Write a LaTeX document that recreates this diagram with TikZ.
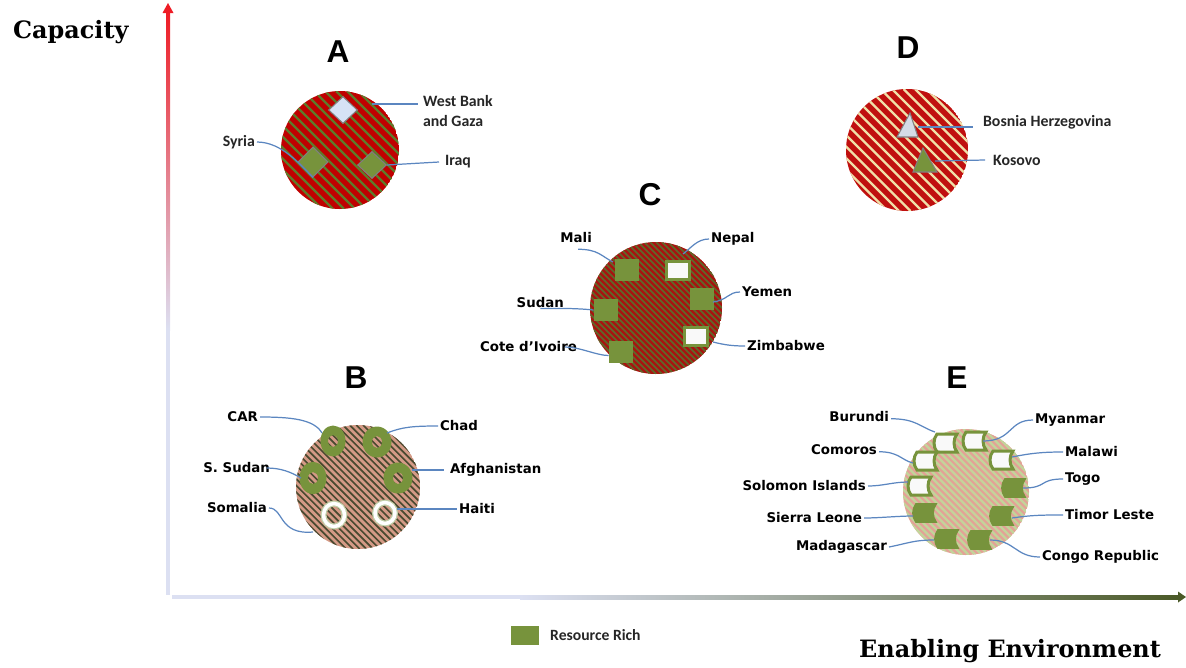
\documentclass[tikz,border=0pt]{standalone}
\usepackage{fontspec}
\usepackage{tikz}
\usetikzlibrary{shapes.geometric,positioning}
\newfontfamily\dvfont{DejaVu Sans}
\newfontfamily\calfont{Carlito}
\newfontfamily\arfont{Liberation Sans}
\newfontfamily\serfont{DejaVu Serif}
\definecolor{grn}{HTML}{77933C}
\definecolor{cblue}{HTML}{5B86C0}
\definecolor{redA}{HTML}{C00000}
\definecolor{olA}{HTML}{5F7A2A}
\definecolor{redC}{HTML}{A81410}
\definecolor{olC}{HTML}{5E6A2A}
\definecolor{redD}{HTML}{C0100F}
\definecolor{crD}{HTML}{F0E0A8}
\definecolor{salB}{HTML}{D49A86}
\definecolor{dkB}{HTML}{4A4A30}
\definecolor{salE}{HTML}{E3A296}
\definecolor{ltE}{HTML}{C3D49A}
\definecolor{lav}{HTML}{DCE0F2}
\definecolor{axgrn}{HTML}{4B5A28}
\definecolor{axred}{HTML}{EE1C25}
\definecolor{wbblue}{HTML}{D6E2F5}
\definecolor{trigray}{HTML}{D5DCE6}

% hatched disc: centre x, centre y, radius, base, stripe, period, stripe width
\newcommand{\hatchdisc}[7]{%
  \begin{scope}
    \clip (#1,#2) circle (#3);
    \fill[#4] (#1,#2) circle (#3);
    \foreach \i in {-25,...,25}
      \draw[#5, line width=#7] ({#1+\i*#6-#3},{#2-#3}) -- ({#1+\i*#6+#3},{#2+#3});
  \end{scope}}

\tikzset{
  stdata/.pic={% curved "stored data" block of group E
    \path[pic actions] (-9,-9) -- (11,-9) .. controls (7,-4) and (7,4) .. (11,9)
      -- (-9,9) .. controls (-13,4) and (-13,-4) .. (-9,-9) -- cycle;
    \coordinate (-c) at (0,0);
  }
}

\begin{document}
\begin{tikzpicture}[x=0.02cm, y=-0.02cm, % one unit = one pixel of the reference
  lbl/.style={font=\dvfont\bfseries\fontsize{7.6}{9}\selectfont, inner sep=1pt}, % country names
  cal/.style={font=\calfont\bfseries\fontsize{9}{11.3}\selectfont, text=black!85, inner sep=1pt, align=left},
  big/.style={font=\arfont\bfseries\fontsize{18}{20}\selectfont},
  axl/.style={font=\serfont\bfseries\fontsize{13.6}{16}\selectfont},
  conn/.style={draw=cblue, line width=0.7pt},
  sqg/.style={rectangle, fill=grn, minimum width=0.48cm, minimum height=0.44cm, inner sep=0pt},
  sqw/.style={rectangle, fill=white!95!gray, draw=grn, line width=1.7pt, minimum width=0.46cm, minimum height=0.36cm, inner sep=0pt},
  dia/.style={diamond, draw=gray, line width=0.6pt, inner sep=0pt, minimum width=0.58cm, minimum height=0.54cm},
  ring/.style={fill=grn, even odd rule},
  hollow/.style={draw=white, line width=2pt},
  sdg/.style={fill=grn, draw=grn, line width=1pt},
  sdw/.style={fill=white!95!gray, draw=grn, line width=1.7pt}
  ]
\useasboundingbox (0,0) rectangle (1186,667);

% axes
\shade[top color=axred, bottom color=lav] (166,12) rectangle (170,330);
\fill[lav] (166,330) rectangle (170,595);
\fill[axred] (162.5,13) -- (168,3) -- (173.5,13) -- cycle;
\fill[lav] (172,595) rectangle (520,599);
\shade[left color=lav, right color=axgrn] (520,595) rectangle (1179,599);
\fill[axgrn] (1178,591.5) -- (1186,597) -- (1178,602.5) -- cycle;
\node[axl, anchor=base west] (yax) at (7,38) {Capacity};
\node[axl, anchor=base west] (xax) at (853,657) {Enabling Environment};

% groups
\hatchdisc{340}{150}{59}{redA}{olA}{11}{1.3pt}
\hatchdisc{907}{150}{61}{redD}{crD}{11.5}{1.3pt}
\hatchdisc{656}{308}{66}{redC}{olC}{6}{1pt}
\hatchdisc{358}{487}{62}{salB}{dkB}{6.7}{0.95pt}
\hatchdisc{966}{492}{63}{salE}{ltE}{6.7}{1.3pt}
\node[big] (hA) at (338,52) {A};
\node[big] (hD) at (908,48) {D};
\node[big] (hC) at (650,195) {C};
\node[big] (hB) at (356,378) {B};
\node[big] (hE) at (957,378) {E};

% A
\node[dia, fill=wbblue] (wb) at (343,110) {};
\node[dia, fill=grn, minimum width=0.6cm, minimum height=0.6cm] (syr) at (313,162) {};
\node[dia, fill=grn] (irq) at (372,165) {};
\node[cal, anchor=north west] (lWB) at (421,93) {West Bank\\and Gaza};
\node[cal, anchor=east] (lSyr) at (257,142) {Syria};
\node[cal, anchor=west] (lIrq) at (443,162) {Iraq};
\draw[conn] ([shift={(14,-6)}]wb.east) -- ([shift={(-3,0)}]lWB.north west |- 0,104);
\draw[conn] (lSyr.east) .. controls +(25,0) and +(-12,-12) .. (syr.south);
\draw[conn] (irq.east) -- ([shift={(-4,0)}]lIrq.west);

% D
\coordinate (bos) at (908,127);
\coordinate (kos) at (925,162);
\filldraw[fill=trigray, draw=gray, line width=0.6pt] ([shift={(2,-14)}]bos) -- ([shift={(10,10)}]bos) -- ([shift={(-11,10)}]bos) -- cycle;
\filldraw[fill=grn, draw=gray, line width=0.6pt] ([shift={(-2,-14)}]kos) -- ([shift={(12,10)}]kos) -- ([shift={(-12,10)}]kos) -- cycle;
\node[cal, anchor=west] (lBos) at (981,122) {Bosnia Herzegovina};
\node[cal, anchor=west] (lKos) at (991,160) {Kosovo};
\draw[conn] ([shift={(10,0)}]bos) -- ([shift={(-8,5)}]lBos.west);
\draw[conn] ([shift={(10,-1)}]kos) -- ([shift={(-6,0)}]lKos.west);

% C
\node[sqg] (mali) at (627,270) {};
\node[sqw] (nep) at (678,270) {};
\node[sqg] (yem) at (702,299) {};
\node[sqg] (sud) at (606,310) {};
\node[sqw] (zim) at (696,336) {};
\node[sqg] (cote) at (621,352) {};
\node[lbl, anchor=east] (lMali) at (594,238) {Mali};
\node[lbl, anchor=west] (lNep) at (709,239) {Nepal};
\node[lbl, anchor=west] (lYem) at (740,292) {Yemen};
\node[lbl, anchor=east] (lSud) at (566,303) {Sudan};
\node[lbl, anchor=west] (lZim) at (745,346) {Zimbabwe};
\node[lbl, anchor=east] (lCote) at (579,347) {Cote d’Ivoire};
\draw[conn] ([shift={(2,4)}]lMali.south) .. controls +(20,0) and +(-12,-6) .. ([shift={(-14,-8)}]mali.center);
\draw[conn] (lNep.west) .. controls +(-12,0) and +(8,-6) .. ([shift={(5,-16)}]nep.center);
\draw[conn] ([shift={(11,3)}]yem.center) .. controls +(15,-2) and +(-12,0) .. (lYem.west);
\draw[conn] ([yshift=1pt]lSud.south) .. controls +(20,0) and +(-20,-2) .. (sud.west);
\draw[conn] ([shift={(17,6)}]zim.center) .. controls +(12,3) and +(-12,0) .. (lZim.west);
\draw[conn] ([xshift=-8pt]lCote.east) .. controls +(15,0) and +(-12,0) .. ([yshift=-2pt]cote.west);

% B
\coordinate (car) at (333,441);
\coordinate (chad) at (377,442);
\coordinate (ssud) at (313,478);
\coordinate (afg) at (398,478);
\coordinate (som) at (334,515);
\coordinate (hai) at (385,513);
\fill[ring] (car) ellipse (12.5 and 15.5) (car) ellipse (5 and 6);
\fill[ring] (chad) ellipse (14.5 and 15.5) (chad) ellipse (5 and 6);
\fill[ring] (ssud) ellipse (13.5 and 16) (ssud) ellipse (5 and 6);
\fill[ring] (afg) ellipse (14.5 and 15.5) (afg) ellipse (5 and 6);
\draw[draw=grn!45!white, line width=3.4pt] (som) ellipse (10.5 and 11.5);
\draw[hollow] (som) ellipse (10.5 and 11.5);
\draw[draw=grn!45!white, line width=3.4pt] (hai) ellipse (10 and 10.5);
\draw[hollow] (hai) ellipse (10 and 10.5);
\node[lbl, anchor=east] (lCar) at (260,417) {CAR};
\node[lbl, anchor=west] (lChad) at (438,426) {Chad};
\node[lbl, anchor=east] (lSsud) at (272,468) {S. Sudan};
\node[lbl, anchor=west] (lAfg) at (448,470) {Afghanistan};
\node[lbl, anchor=east] (lSom) at (269,508) {Somalia};
\node[lbl, anchor=west] (lHai) at (457,509) {Haiti};
\draw[conn] (lCar.east) .. controls +(30,0) and +(-8,-14) .. ([shift={(-11,-8)}]car);
\draw[conn] ([shift={(10,-9)}]chad) .. controls +(15,-6) and +(-25,0) .. (lChad.west);
\draw[conn] ([xshift=-3pt]lSsud.east) .. controls +(14,0) and +(-10,-6) .. ([shift={(-12,0)}]ssud);
\draw[conn] ([shift={(14,-8)}]afg) -- ([xshift=-2pt]lAfg.west);
\draw[conn] (lSom.east) .. controls +(15,0) and +(-35,3) .. ([shift={(-21,17)}]som);
\draw[conn] ([shift={(12,-4)}]hai) -- (lHai.west);

% E
\pic[sdw] (bur) at (946,443) {stdata};
\pic[sdw] (mya) at (975,441) {stdata};
\pic[sdw] (com) at (926,461) {stdata};
\pic[sdw] (mal) at (1002,460) {stdata};
\pic[sdw] (sol) at (920,486) {stdata};
\pic[sdg] (togo) at (1014,488) {stdata};
\pic[sdg] (sl) at (925,513) {stdata};
\pic[sdg] (tim) at (1002,516) {stdata};
\pic[sdg] (mad) at (947,539) {stdata};
\pic[sdg] (cong) at (980,540) {stdata};
\node[lbl, anchor=east] (lBur) at (891,417) {Burundi};
\node[lbl, anchor=west] (lMya) at (1033,420) {Myanmar};
\node[lbl, anchor=east] (lCom) at (879,450) {Comoros};
\node[lbl, anchor=west] (lMal) at (1063,452) {Malawi};
\node[lbl, anchor=east] (lSol) at (868,486) {Solomon Islands};
\node[lbl, anchor=west] (lTogo) at (1063,479) {Togo};
\node[lbl, anchor=east] (lSl) at (864,518) {Sierra Leone};
\node[lbl, anchor=west] (lTim) at (1063,515) {Timor Leste};
\node[lbl, anchor=east] (lMad) at (889,547) {Madagascar};
\node[lbl, anchor=west] (lCong) at (1040,557) {Congo Republic};
\draw[conn] ([yshift=-1pt]lBur.east) .. controls +(25,0) and +(-15,-5) .. ([shift={(-11,-11)}]bur-c);
\draw[conn] ([shift={(8,0)}]mya-c) .. controls +(30,0) and +(-25,0) .. (lMya.west);
\draw[conn] ([yshift=-1pt]lCom.east) .. controls +(20,0) and +(-12,-3) .. ([shift={(-13,2)}]com-c);
\draw[conn] ([shift={(10,-3)}]mal-c) .. controls +(20,-4) and +(-20,0) .. (lMal.west);
\draw[conn] (lSol.east) .. controls +(15,0) and +(-15,0) .. ([shift={(-12,-4)}]sol-c);
\draw[conn] ([shift={(9,0)}]togo-c) .. controls +(25,0) and +(-25,0) .. (lTogo.west);
\draw[conn] (lSl.east) .. controls +(15,0) and +(-15,0) .. ([shift={(-12,3)}]sl-c);
\draw[conn] ([shift={(10,2)}]tim-c) .. controls +(20,-3) and +(-20,0) .. (lTim.west);
\draw[conn] (lMad.east) .. controls +(20,-4) and +(-20,0) .. ([shift={(-13,1)}]mad-c);
\draw[conn] ([shift={(10,0)}]cong-c) .. controls +(25,0) and +(-25,0) .. (lCong.west);

% legend
\node[rectangle, fill=grn, minimum width=0.56cm, minimum height=0.38cm, inner sep=0pt] (legbox) at (525,635) {};
\node[cal, right=5pt of legbox, font=\calfont\bfseries\fontsize{8.9}{10}\selectfont] (legtxt) {Resource Rich};
\end{tikzpicture}
\end{document}
